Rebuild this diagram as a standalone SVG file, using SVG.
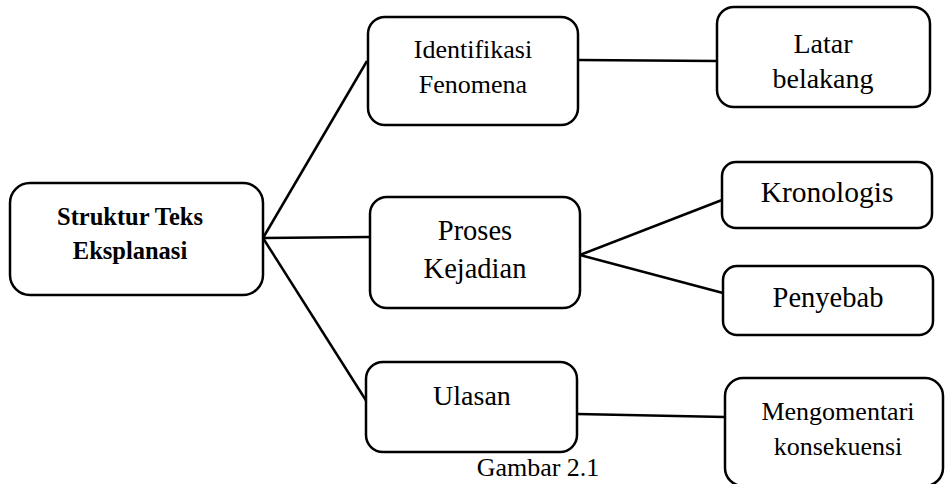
<svg xmlns="http://www.w3.org/2000/svg" width="945" height="484" viewBox="0 0 945 484">
<style>
.box{fill:#fff;stroke:#000;stroke-width:2.5}
.ln{stroke:#000;stroke-width:2.5;fill:none}
text{font-family:"Liberation Serif","Times New Roman",serif;fill:#000;text-anchor:middle}
</style>
<rect width="945" height="484" fill="#fff"/>
<g id="connectors">
<line class="ln" x1="263" y1="238" x2="367" y2="61"/>
<line class="ln" x1="263" y1="238" x2="370" y2="237"/>
<line class="ln" x1="263" y1="238" x2="367" y2="402"/>
<line class="ln" x1="578" y1="60" x2="717" y2="61"/>
<line class="ln" x1="580" y1="255" x2="722" y2="200"/>
<line class="ln" x1="580" y1="255" x2="723" y2="293"/>
<line class="ln" x1="577" y1="414" x2="725" y2="417"/>
</g>
<g id="root">
<rect class="box" x="10" y="183" width="253" height="112" rx="20"/>
<text x="130" y="225" font-size="24.5" font-weight="bold">Struktur Teks</text>
<text x="130" y="259" font-size="24.5" font-weight="bold">Eksplanasi</text>
</g>
<g id="identifikasi">
<rect class="box" x="368" y="17" width="210" height="108" rx="17"/>
<text x="473" y="58" font-size="26">Identifikasi</text>
<text x="473" y="93" font-size="26">Fenomena</text>
</g>
<g id="latar">
<rect class="box" x="717" y="7" width="213" height="100" rx="17"/>
<text x="823" y="53" font-size="28">Latar</text>
<text x="823" y="88" font-size="28">belakang</text>
</g>
<g id="proses">
<rect class="box" x="370" y="197" width="210" height="111" rx="17"/>
<text x="475" y="240" font-size="28.5">Proses</text>
<text x="475" y="278" font-size="28.5">Kejadian</text>
</g>
<g id="kronologis">
<rect class="box" x="722" y="162" width="210" height="66" rx="14"/>
<text x="827" y="202" font-size="29.5">Kronologis</text>
</g>
<g id="penyebab">
<rect class="box" x="723" y="266" width="210" height="69" rx="14"/>
<text x="828" y="307" font-size="28.5">Penyebab</text>
</g>
<g id="ulasan">
<rect class="box" x="366" y="362" width="211" height="90" rx="17"/>
<text x="472" y="405" font-size="28">Ulasan</text>
</g>
<g id="mengomentari">
<rect class="box" x="725" y="378" width="218" height="108" rx="18"/>
<text x="838" y="420" font-size="26">Mengomentari</text>
<text x="838" y="455" font-size="26">konsekuensi</text>
</g>
<text x="538" y="476" font-size="26">Gambar 2.1</text>
</svg>
